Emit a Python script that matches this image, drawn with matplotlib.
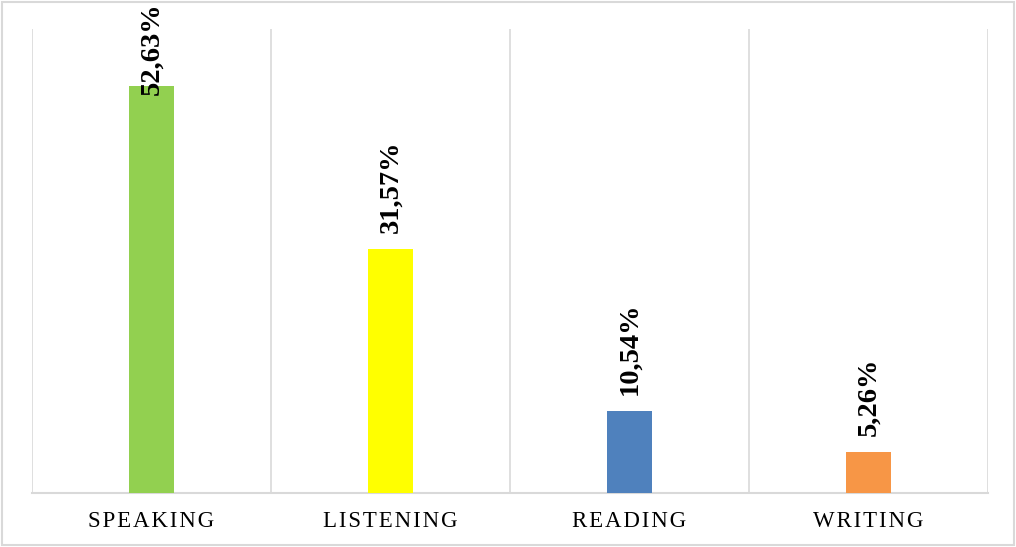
import numpy as np
import matplotlib.pyplot as plt
from matplotlib.patches import Rectangle

# Skill shares (percent)
skills = ['SPEAKING', 'LISTENING', 'READING', 'WRITING']
shares = [52.63, 31.57, 10.54, 5.26]
share_labels = ['52,63%', '31,57%', '10,54%', '5,26%']
bar_colors = ['#92D050', '#FFFF00', '#4F81BD', '#F79646']

GRID = '#d9d9d9'

fig = plt.figure(figsize=(10.16, 5.47), dpi=100)
ax = fig.add_axes([0.0315, 0.0987, 0.9409, 0.8483])

x = np.arange(len(skills))
ax.bar(x, shares, width=0.185, color=bar_colors, zorder=3)

ax.set_xlim(-0.5, len(skills) - 0.5)
ax.set_ylim(0, 60)

# category separators
for b in np.arange(-0.5, len(skills), 1.0):
    ax.axvline(b, color=GRID, linewidth=1.2, zorder=1)

for s in ['top', 'left', 'right']:
    ax.spines[s].set_visible(False)
ax.spines['bottom'].set_color(GRID)
ax.spines['bottom'].set_linewidth(1.5)
ax.set_yticks([])

# letter-spaced category names
spaced = ['\u200a'.join(s) for s in skills]
ax.set_xticks(x)
ax.set_xticklabels(spaced, fontfamily='Liberation Serif', fontsize=16.5)
ax.tick_params(axis='x', length=0, pad=13)

# rotated value labels above each bar, kept inside the frame
for xi, v, lab in zip(x, shares, share_labels):
    ax.text(xi, min(v + 2.1, 51.5), lab, rotation=90, ha='center', va='bottom',
            fontfamily='Liberation Serif', fontweight='bold', fontsize=20.5,
            clip_on=False, zorder=4)

# outer chart frame
fig.patches.append(Rectangle((0.002, 0.003), 0.996, 0.994, transform=fig.transFigure,
                             fill=False, edgecolor=GRID, linewidth=1.5))

fig.savefig('out.png', dpi=100, facecolor='white')
